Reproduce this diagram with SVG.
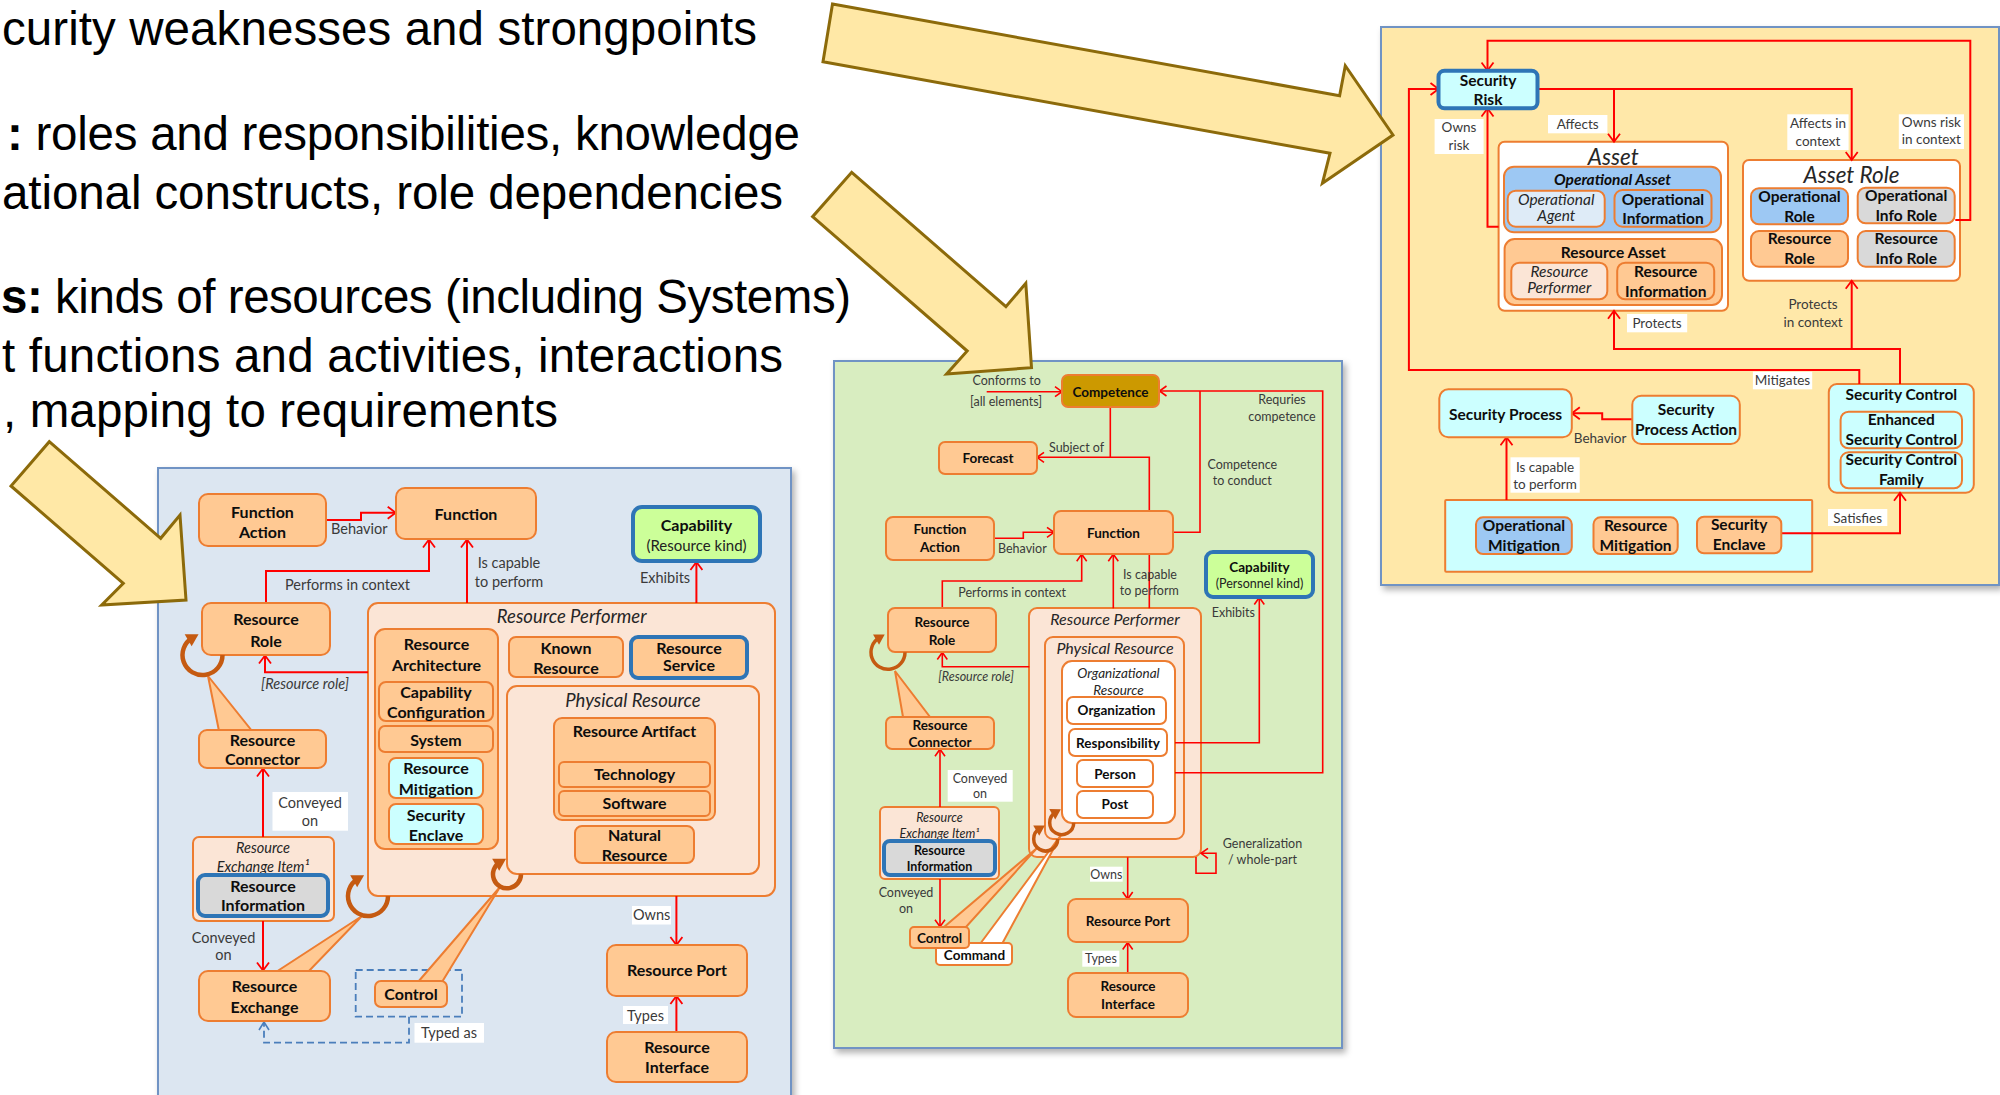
<svg xmlns="http://www.w3.org/2000/svg" width="2000" height="1095" viewBox="0 0 2000 1095">
<defs>
<style>
text{font-family:Lato,"Liberation Sans","DejaVu Sans",sans-serif}
.slide{font-family:"Liberation Sans",Arial,sans-serif;font-size:47.5px;fill:#000}
.n{fill:#FFC993;stroke:#ED7D31;stroke-width:2}
.pc{fill:#FBE5D6;stroke:#ED7D31;stroke-width:2}
.cy{fill:#CCFFFF;stroke:#ED7D31;stroke-width:2}
.lb{fill:#9DC8F3;stroke:#ED7D31;stroke-width:2}
.gr{fill:#D9D9D9;stroke:#ED7D31;stroke-width:2}
.wh{fill:#FFFFFF;stroke:#ED7D31;stroke-width:2}
.ag{fill:#DEEBF7;stroke:#ED7D31;stroke-width:2}
.cap{fill:#CCFF99;stroke:#2E75B6;stroke-width:4}
.bb{stroke:#2E75B6;stroke-width:4}
.b{font-weight:700;text-anchor:middle;fill:#0d0d0d}
.i{font-style:italic;text-anchor:middle;fill:#262626}
.r{text-anchor:middle;fill:#3a3a3a}
.st{text-anchor:start}
.L{font-size:16px}.M{font-size:13.5px}.R{font-size:15.5px}
.lL{font-size:14.5px}.lM{font-size:12.5px}.lR{font-size:13.5px}
.tL{font-size:18.5px}.tM{font-size:16px}.tR{font-size:22.5px}
.c{fill:none;stroke:#FF0000;stroke-width:2;marker-end:url(#ah)}
.cs{fill:none;stroke:#FF0000;stroke-width:1.6;marker-end:url(#ahs)}
.cn{fill:none;stroke:#FF0000;stroke-width:2}
.cns{fill:none;stroke:#FF0000;stroke-width:1.6}
.wb{fill:#FFFFFF}
.loop{fill:none;stroke:#C55A11;stroke-width:4.5;marker-end:url(#bh)}
.loops{fill:none;stroke:#C55A11;stroke-width:3.5;marker-end:url(#bhs)}
.co{fill:#FFC993;stroke:#ED7D31;stroke-width:2}
.cw{fill:#FFFFFF;stroke:#ED7D31;stroke-width:2}
.big{fill:#FFE8A6;stroke:#8C6A0A;stroke-width:3}
.panel{stroke:#6F93C4;stroke-width:2;filter:url(#sh)}
</style>
<filter id="sh" x="-3%" y="-3%" width="108%" height="108%">
<feDropShadow dx="3" dy="4" stdDeviation="3" flood-color="#000" flood-opacity="0.3"/>
</filter>
<marker id="ah" markerUnits="userSpaceOnUse" markerWidth="14" markerHeight="14" viewBox="-10 -7 14 14" refX="0" refY="0" orient="auto">
<path d="M-8,-6 L0,0 L-8,6" fill="none" stroke="#FF0000" stroke-width="1.8"/>
</marker>
<marker id="ahs" markerUnits="userSpaceOnUse" markerWidth="12" markerHeight="12" viewBox="-9 -6 12 12" refX="0" refY="0" orient="auto">
<path d="M-7,-5 L0,0 L-7,5" fill="none" stroke="#FF0000" stroke-width="1.6"/>
</marker>
<marker id="ahb" markerUnits="userSpaceOnUse" markerWidth="14" markerHeight="14" viewBox="-10 -7 14 14" refX="0" refY="0" orient="auto">
<path d="M-8,-5 L0,0 L-8,5" fill="none" stroke="#4A7EBB" stroke-width="1.6"/>
</marker>
<marker id="bh" markerUnits="userSpaceOnUse" markerWidth="16" markerHeight="16" viewBox="-8 -8 16 16" refX="0" refY="0" orient="auto">
<path d="M-5,-7 L7,0 L-5,7 z" fill="#C55A11"/>
</marker>
<marker id="bhs" markerUnits="userSpaceOnUse" markerWidth="14" markerHeight="14" viewBox="-7 -7 14 14" refX="0" refY="0" orient="auto">
<path d="M-4,-6 L6,0 L-4,6 z" fill="#C55A11"/>
</marker>
</defs>

<rect x="0" y="0" width="2000" height="1095" fill="#FFFFFF"/>

<g id="panels">
<rect class="panel" x="158" y="468" width="633" height="640" fill="#DCE6F1"/>
<rect class="panel" x="834" y="361" width="508" height="687" fill="#D8EDC0"/>
<rect class="panel" x="1381" y="27" width="618" height="558" fill="#FFE8A9"/>
</g>

<g id="containers">
<g id="L-resource-performer"><rect class="pc" x="368" y="603" width="407" height="293" rx="10"/><text class="i tL" x="571.7" y="623.3">Resource Performer</text></g>
<g id="L-resource-architecture"><rect class="n" x="375" y="629" width="123" height="220" rx="10"/><text class="b L" x="436.5" y="650">Resource</text><text class="b L" x="436.5" y="671">Architecture</text></g>
<g id="L-physical-resource"><rect class="pc" x="507" y="686" width="252" height="188" rx="10"/><text class="i tL" x="633" y="706.7">Physical Resource</text></g>
<g id="L-resource-artifact"><rect class="n" x="554" y="718" width="161" height="102" rx="8"/><text class="b L" x="634.5" y="736.7">Resource Artifact</text></g>
<g id="L-resource-exchange-item"><rect class="pc" x="193" y="837" width="141" height="84" rx="6"/><text class="i lL" x="263" y="853.3">Resource</text><text class="i lL" x="263" y="871.7">Exchange Item¹</text></g>

<g id="M-resource-performer"><rect class="pc" x="1029" y="608" width="172" height="249" rx="8"/><text class="i tM" x="1115" y="625">Resource Performer</text></g>
<g id="M-physical-resource"><rect class="pc" x="1045" y="637" width="139" height="202" rx="8"/><text class="i tM" x="1115" y="653.5">Physical Resource</text></g>
<g id="M-organizational-resource"><rect class="wh" x="1062" y="661" width="113" height="162" rx="10"/><text class="i" x="1118.5" y="677.5" style="font-size:13.5px">Organizational</text><text class="i" x="1118.5" y="695" style="font-size:13.5px">Resource</text></g>
<g id="M-resource-exchange-item"><rect class="pc" x="880" y="807" width="119" height="72" rx="5"/><text class="i lM" x="939.5" y="821.5">Resource</text><text class="i lM" x="939.5" y="837.5">Exchange Item¹</text></g>

<g id="R-asset"><rect class="wh" x="1498.6" y="141.7" width="229.4" height="169" rx="6"/><text class="i tR" x="1613.3" y="164.5">Asset</text></g>
<g id="R-operational-asset"><rect class="lb" x="1504" y="166.7" width="217" height="65.6" rx="10"/><text class="b R" x="1612.5" y="185" font-style="italic">Operational Asset</text></g>
<g id="R-resource-asset"><rect class="n" x="1504.6" y="239" width="217.4" height="66" rx="10"/><text class="b R" x="1613.3" y="258.3">Resource Asset</text></g>
<g id="R-asset-role"><rect class="wh" x="1743" y="160" width="217" height="120.7" rx="6"/><text class="i tR" x="1851.5" y="183">Asset Role</text></g>
<g id="R-security-control"><rect class="cy" x="1828.8" y="384" width="145" height="108.7" rx="8"/><text class="b R" x="1901.3" y="400">Security Control</text></g>
<g id="R-mitigation-set"><rect class="cy" x="1445.2" y="500" width="367" height="71.7" rx="1"/></g>
</g>

<g id="connectors">
<path class="c" d="M326,520 H361 V512.7 H395.7"/>
<path class="c" d="M266,603 V571 H429 V539.5"/>
<path class="c" d="M467,603 V539.5"/>
<path class="c" d="M696.4,603 V562"/>
<path class="c" d="M368,672.3 H265 V655.5"/>
<path class="c" d="M263,837 V768.5"/>
<path class="c" d="M263,921 V970.5"/>
<path class="c" d="M676.4,896 V945"/>
<path class="c" d="M676.4,1032 V996"/>
<rect x="355.7" y="970" width="106.3" height="46.7" fill="none" stroke="#4A7EBB" stroke-width="1.8" stroke-dasharray="7,4"/>
<path d="M409,1016.7 V1042.7 H264 V1022" fill="none" stroke="#4A7EBB" stroke-width="1.8" stroke-dasharray="7,4" marker-end="url(#ahb)"/>

<path class="cs" d="M986.7,391.7 H1062"/>
<path class="cns" d="M1110.3,407.3 V457.3"/>
<path class="cs" d="M1149.3,608.3 V457.3 H1037"/>
<path class="cs" d="M994,538.3 H1023.3 V532.3 H1054"/>
<path class="cns" d="M1173.3,532.3 H1200 V391"/>
<path class="cs" d="M1175,772.7 H1322.7 V391 H1159.5"/>
<path class="cs" d="M1175,742.7 H1259.3 V597.5"/>
<path class="cs" d="M942.3,608.3 V581 H1081.7 V554.2"/>
<path class="cs" d="M1113.3,608.3 V554.2"/>
<path class="cs" d="M1029.3,666.7 H942.3 V652.5"/>
<path class="cs" d="M940,807 V749.2"/>
<path class="cs" d="M940,879 V926.7"/>
<path class="cs" d="M1127.7,857.3 V899"/>
<path class="cs" d="M1127.7,973.3 V942.5"/>
<path class="cs" d="M1196,857 V873.3 H1216 V853.3 H1201"/>

<path class="c" d="M1955.3,220 H1970.3 V40.7 H1487.5 V70.5"/>
<path class="c" d="M1859.3,384 V370 H1408.9 V89 H1438.5"/>
<path class="c" d="M1498.6,226.7 H1487.5 V108.5"/>
<path class="c" d="M1537.4,89 H1851.7 V160"/>
<path class="c" d="M1614,89 V141.7"/>
<path class="c" d="M1900,384 V349 H1614 V310.7"/>
<path class="c" d="M1851.7,349 V280.7"/>
<path class="c" d="M1632.3,419.3 H1602.2 V413.3 H1571.8"/>
<path class="c" d="M1506.5,500 V437.3"/>
<path class="c" d="M1781.3,533.3 H1900 V492.7"/>
</g>

<g id="callouts">
<polygon class="co" points="219,731 208,676 252,731"/>
<polygon class="co" points="276,972 362,916 308,972"/>
<polygon class="co" points="418,982 500,887 442,982"/>
<polygon class="co" points="903,717 895,671 930,717"/>
<polygon class="cw" points="980,944 1061,835 1002,944"/>
<polygon class="co" points="944,927 1037,848 966,927"/>
</g>

<g id="nodes">
<g id="L-function-action"><rect class="n" x="199" y="494" width="127" height="52" rx="9"/><text class="b L" x="262.5" y="517.7">Function</text><text class="b L" x="262.5" y="538.3">Action</text></g>
<g id="L-function"><rect class="n" x="396" y="488" width="140" height="51" rx="9"/><text class="b L" x="466" y="520">Function</text></g>
<g id="L-capability"><rect class="cap" x="633" y="507" width="127" height="54" rx="9"/><text class="b L" x="696.5" y="531">Capability</text><text class="r" x="696.5" y="550.5" style="font-size:15px;fill:#222">(Resource kind)</text></g>
<g id="L-resource-role"><rect class="n" x="202" y="603" width="128" height="52" rx="9"/><text class="b L" x="266" y="625">Resource</text><text class="b L" x="266" y="646.7">Role</text></g>
<g id="L-resource-connector"><rect class="n" x="199" y="730" width="127" height="38" rx="8"/><text class="b L" x="262.5" y="745.5">Resource</text><text class="b L" x="262.5" y="765">Connector</text></g>
<g id="L-resource-information"><rect class="gr bb" x="198" y="875" width="130" height="41" rx="7"/><text class="b L" x="263" y="891.5">Resource</text><text class="b L" x="263" y="910.5">Information</text></g>
<g id="L-resource-exchange"><rect class="n" x="199" y="971" width="131" height="50" rx="9"/><text class="b L" x="264.5" y="991.5">Resource</text><text class="b L" x="264.5" y="1012.5">Exchange</text></g>
<g id="L-control"><rect class="n" x="375" y="981" width="72" height="26" rx="6"/><text class="b L" x="411" y="999.5">Control</text></g>
<g id="L-capability-configuration"><rect class="n" x="379" y="682" width="114" height="39" rx="7"/><text class="b L" x="436" y="697.5">Capability</text><text class="b L" x="436" y="718">Configuration</text></g>
<g id="L-system"><rect class="n" x="379" y="726" width="114" height="26" rx="6"/><text class="b L" x="436" y="745.5">System</text></g>
<g id="L-resource-mitigation"><rect class="cy" x="389" y="758" width="94" height="40" rx="7"/><text class="b L" x="436" y="774">Resource</text><text class="b L" x="436" y="794.5">Mitigation</text></g>
<g id="L-security-enclave"><rect class="cy" x="389" y="804" width="94" height="40" rx="7"/><text class="b L" x="436" y="820.5">Security</text><text class="b L" x="436" y="841">Enclave</text></g>
<g id="L-known-resource"><rect class="n" x="509" y="637" width="114" height="40" rx="7"/><text class="b L" x="566" y="653.5">Known</text><text class="b L" x="566" y="674">Resource</text></g>
<g id="L-resource-service"><rect class="n bb" x="631" y="637" width="116" height="41" rx="7"/><text class="b L" x="689" y="653.5">Resource</text><text class="b L" x="689" y="670.5">Service</text></g>
<g id="L-technology"><rect class="n" x="559" y="762" width="151" height="25" rx="5"/><text class="b L" x="634.5" y="780">Technology</text></g>
<g id="L-software"><rect class="n" x="559" y="791" width="151" height="25" rx="5"/><text class="b L" x="634.5" y="809">Software</text></g>
<g id="L-natural-resource"><rect class="n" x="575" y="826" width="119" height="37" rx="7"/><text class="b L" x="634.5" y="840.5">Natural</text><text class="b L" x="634.5" y="861">Resource</text></g>
<g id="L-resource-port"><rect class="n" x="607" y="945" width="140" height="51" rx="9"/><text class="b L" x="677" y="976">Resource Port</text></g>
<g id="L-resource-interface"><rect class="n" x="607" y="1032" width="140" height="50" rx="9"/><text class="b L" x="677" y="1052.5">Resource</text><text class="b L" x="677" y="1073">Interface</text></g>

<g id="M-competence"><rect x="1062" y="375" width="97" height="32" rx="6" fill="#CC9900" stroke="#ED7D31" stroke-width="2"/><text class="b M" x="1110.5" y="396.5">Competence</text></g>
<g id="M-forecast"><rect class="n" x="939" y="442" width="98" height="32" rx="6"/><text class="b M" x="988" y="463">Forecast</text></g>
<g id="M-function-action"><rect class="n" x="886" y="517" width="108" height="43" rx="7"/><text class="b M" x="940" y="534">Function</text><text class="b M" x="940" y="552">Action</text></g>
<g id="M-function"><rect class="n" x="1054" y="511" width="119" height="43" rx="7"/><text class="b M" x="1113.5" y="537.5">Function</text></g>
<g id="M-capability"><rect class="cap" x="1206" y="552" width="107" height="45" rx="7"/><text class="b M" x="1259.5" y="571.5">Capability</text><text class="r" x="1259.5" y="587.5" style="font-size:12.5px;fill:#222">(Personnel kind)</text></g>
<g id="M-resource-role"><rect class="n" x="888" y="608" width="108" height="44" rx="7"/><text class="b M" x="942" y="626.5">Resource</text><text class="b M" x="942" y="644.5">Role</text></g>
<g id="M-organization"><rect class="wh" x="1067" y="697" width="99" height="27" rx="6"/><text class="b M" x="1116.5" y="715">Organization</text></g>
<g id="M-responsibility"><rect class="wh" x="1069" y="729" width="98" height="27" rx="6"/><text class="b M" x="1118" y="747.5">Responsibility</text></g>
<g id="M-person"><rect class="wh" x="1077" y="760" width="76" height="27" rx="6"/><text class="b M" x="1115" y="778.5">Person</text></g>
<g id="M-post"><rect class="wh" x="1077" y="791" width="76" height="27" rx="6"/><text class="b M" x="1115" y="808.5">Post</text></g>
<g id="M-resource-connector"><rect class="n" x="886" y="717" width="108" height="32" rx="6"/><text class="b M" x="940" y="730">Resource</text><text class="b M" x="940" y="746.5">Connector</text></g>
<g id="M-resource-information"><rect class="gr bb" x="884" y="841" width="111" height="34" rx="6"/><text class="b" x="939.5" y="854.5" style="font-size:12.5px">Resource</text><text class="b" x="939.5" y="870.5" style="font-size:12.5px">Information</text></g>
<g id="M-command"><rect class="wh" x="936" y="943" width="76" height="22" rx="4"/><text class="b M" x="974.5" y="960">Command</text></g>
<g id="M-control"><rect class="n" x="910" y="927" width="59" height="21" rx="4"/><text class="b M" x="939.5" y="943">Control</text></g>
<g id="M-resource-port"><rect class="n" x="1068" y="899" width="120" height="43" rx="8"/><text class="b M" x="1128" y="926">Resource Port</text></g>
<g id="M-resource-interface"><rect class="n" x="1068" y="973" width="120" height="44" rx="8"/><text class="b M" x="1128" y="990.5">Resource</text><text class="b M" x="1128" y="1009">Interface</text></g>

<g id="R-security-risk"><rect class="cy bb" x="1438.5" y="70.7" width="99" height="37.6" rx="6"/><text class="b R" x="1488" y="85.5">Security</text><text class="b R" x="1488" y="105">Risk</text></g>
<g id="R-operational-agent"><rect class="ag" x="1507.7" y="190.7" width="97" height="36" rx="8"/><text class="i R" x="1556.2" y="205">Operational</text><text class="i R" x="1556.2" y="221">Agent</text></g>
<g id="R-operational-information"><rect class="lb" x="1614.5" y="190" width="97" height="36.7" rx="8"/><text class="b R" x="1663" y="205">Operational</text><text class="b R" x="1663" y="224">Information</text></g>
<g id="R-resource-performer"><rect class="pc" x="1511.3" y="262.7" width="96" height="36.6" rx="8"/><text class="i R" x="1559.3" y="276.7">Resource</text><text class="i R" x="1559.3" y="292.7">Performer</text></g>
<g id="R-resource-information"><rect class="n" x="1617.2" y="262.7" width="97" height="36.6" rx="8"/><text class="b R" x="1665.7" y="276.7">Resource</text><text class="b R" x="1665.7" y="296.5">Information</text></g>
<g id="R-operational-role"><rect class="lb" x="1751" y="188.3" width="97" height="36" rx="8"/><text class="b R" x="1799.5" y="201.7">Operational</text><text class="b R" x="1799.5" y="221.7">Role</text></g>
<g id="R-operational-info-role"><rect class="gr" x="1857.7" y="187.7" width="97" height="35.6" rx="8"/><text class="b R" x="1906.2" y="201">Operational</text><text class="b R" x="1906.2" y="221">Info Role</text></g>
<g id="R-resource-role"><rect class="n" x="1751" y="231" width="97" height="35.7" rx="8"/><text class="b R" x="1799.5" y="244.3">Resource</text><text class="b R" x="1799.5" y="264.3">Role</text></g>
<g id="R-resource-info-role"><rect class="gr" x="1857.7" y="231" width="97" height="35.7" rx="8"/><text class="b R" x="1906.2" y="244.3">Resource</text><text class="b R" x="1906.2" y="264.3">Info Role</text></g>
<g id="R-security-process"><rect class="cy" x="1439.3" y="389.3" width="132.5" height="48" rx="9"/><text class="b R" x="1505.5" y="420">Security Process</text></g>
<g id="R-security-process-action"><rect class="cy" x="1632.3" y="395.7" width="107.5" height="48.3" rx="9"/><text class="b R" x="1686" y="415">Security</text><text class="b R" x="1686" y="435">Process Action</text></g>
<g id="R-enhanced-security-control"><rect class="cy" x="1840.6" y="411.7" width="121.4" height="36.6" rx="8"/><text class="b R" x="1901.3" y="425">Enhanced</text><text class="b R" x="1901.3" y="445">Security Control</text></g>
<g id="R-security-control-family"><rect class="cy" x="1840.6" y="452.3" width="121.4" height="36" rx="8"/><text class="b R" x="1901.3" y="465">Security Control</text><text class="b R" x="1901.3" y="485">Family</text></g>
<g id="R-operational-mitigation"><rect class="lb" x="1476" y="517.3" width="95.8" height="36.7" rx="7"/><text class="b R" x="1524" y="530.7">Operational</text><text class="b R" x="1524" y="550.7">Mitigation</text></g>
<g id="R-resource-mitigation"><rect class="n" x="1593.5" y="517.3" width="84.2" height="36.7" rx="7"/><text class="b R" x="1635.6" y="530.7">Resource</text><text class="b R" x="1635.6" y="550.7">Mitigation</text></g>
<g id="R-security-enclave"><rect class="n" x="1697" y="516.7" width="84.3" height="36.6" rx="7"/><text class="b R" x="1739.2" y="530">Security</text><text class="b R" x="1739.2" y="550">Enclave</text></g>
</g>

<g id="self-loops">
<path class="loop" d="M222.5,655 A20,20 0 1 1 192.5,637.7"/>
<path class="loop" d="M388,896 A20,20 0 1 1 358,878.7"/>
<path class="loop" d="M521,874.3 A14,14 0 1 1 500,862.2"/>
<path class="loops" d="M905,652.3 A17,17 0 1 1 879.5,637.6"/>
<path class="loops" d="M1057.7,839 A12,12 0 1 1 1039.7,828.6"/>
<path class="loops" d="M1073.7,822.7 A12,12 0 1 1 1055.7,812.3"/>
</g>

<g id="labels">
<text class="r lL st" x="331" y="534">Behavior</text>
<text class="r lL st" x="285" y="590">Performs in context</text>
<text class="r lL" x="509" y="568.3">Is capable</text>
<text class="r lL" x="509" y="586.7">to perform</text>
<text class="r lL" x="665" y="583.3">Exhibits</text>
<text class="r lL" x="305" y="689.3" font-style="italic">[Resource role]</text>
<rect class="wb" x="272.5" y="792" width="75.5" height="38.7"/>
<text class="r lL" x="310" y="807.7">Conveyed</text>
<text class="r lL" x="310" y="825.7">on</text>
<text class="r lL" x="223.5" y="942.7">Conveyed</text>
<text class="r lL" x="223.5" y="960">on</text>
<rect class="wb" x="632" y="906" width="39" height="18.5"/>
<text class="r lL" x="651.7" y="920">Owns</text>
<rect class="wb" x="623" y="1006" width="45" height="18"/>
<text class="r lL" x="645.5" y="1021">Types</text>
<rect class="wb" x="414.5" y="1023" width="69.5" height="19.7"/>
<text class="r lL" x="449" y="1037.7">Typed as</text>

<text class="r lM" x="1006.7" y="385">Conforms to</text>
<text class="r lM" x="1006" y="406">[all elements]</text>
<text class="r lM st" x="1049" y="451.7">Subject of</text>
<text class="r lM" x="1282" y="404.3">Requries</text>
<text class="r lM" x="1282" y="420.7">competence</text>
<text class="r lM" x="1242.3" y="469.3">Competence</text>
<text class="r lM" x="1242.3" y="485">to conduct</text>
<text class="r lM st" x="998" y="553.3">Behavior</text>
<text class="r lM st" x="958.3" y="597.3">Performs in context</text>
<text class="r lM" x="1150" y="579">Is capable</text>
<text class="r lM" x="1149.3" y="595">to perform</text>
<text class="r lM st" x="1211.7" y="617.3">Exhibits</text>
<text class="r lM" x="976" y="681" font-style="italic">[Resource role]</text>
<rect class="wb" x="947.7" y="770" width="65" height="31.7"/>
<text class="r lM" x="980" y="782.7">Conveyed</text>
<text class="r lM" x="980" y="798.3">on</text>
<text class="r lM" x="906" y="897.3">Conveyed</text>
<text class="r lM" x="906" y="913.3">on</text>
<rect class="wb" x="1090" y="866.7" width="32.7" height="15"/>
<text class="r lM" x="1106.3" y="879">Owns</text>
<rect class="wb" x="1082.3" y="950.7" width="37" height="16"/>
<text class="r lM" x="1101" y="963.3">Types</text>
<text class="r lM" x="1262.5" y="848.3">Generalization</text>
<text class="r lM" x="1262.5" y="864.3">/ whole-part</text>

<rect class="wb" x="1434.6" y="119" width="49" height="35"/>
<text class="r lR" x="1459" y="132.3">Owns</text>
<text class="r lR" x="1459" y="150">risk</text>
<rect class="wb" x="1548" y="115" width="59.4" height="18.3"/>
<text class="r lR" x="1577.7" y="129">Affects</text>
<rect class="wb" x="1787.3" y="114.3" width="61.3" height="35.7"/>
<text class="r lR" x="1818" y="128.3">Affects in</text>
<text class="r lR" x="1818" y="145.7">context</text>
<rect class="wb" x="1898.8" y="114.3" width="65.2" height="34.7"/>
<text class="r lR" x="1931.4" y="126.7">Owns risk</text>
<text class="r lR" x="1931.4" y="144.3">in context</text>
<rect class="wb" x="1627" y="314" width="60.2" height="18.3"/>
<text class="r lR" x="1657" y="328.3">Protects</text>
<text class="r lR" x="1813" y="309">Protects</text>
<text class="r lR" x="1813" y="326.7">in context</text>
<rect class="wb" x="1752.9" y="371.7" width="59.3" height="17.6"/>
<text class="r lR" x="1782.5" y="385">Mitigates</text>
<text class="r lR st" x="1573.8" y="443.3">Behavior</text>
<rect class="wb" x="1510.5" y="457.3" width="69.2" height="35.4"/>
<text class="r lR" x="1545" y="471.7">Is capable</text>
<text class="r lR" x="1545" y="489.3">to perform</text>
<rect class="wb" x="1828" y="509" width="59.3" height="17"/>
<text class="r lR" x="1857.7" y="522.7">Satisfies</text>
</g>

<g id="slide-text">
<text class="slide" x="2" y="45" textLength="755" lengthAdjust="spacing">curity weaknesses and strongpoints</text>
<text class="slide" x="7" y="149.5" textLength="793" lengthAdjust="spacing"><tspan font-weight="bold">:</tspan> roles and responsibilities, knowledge</text>
<text class="slide" x="2" y="209" textLength="781" lengthAdjust="spacing">ational constructs, role dependencies</text>
<text class="slide" x="1" y="313" textLength="850" lengthAdjust="spacing"><tspan font-weight="bold">s:</tspan> kinds of resources (including Systems)</text>
<text class="slide" x="2" y="372" textLength="781" lengthAdjust="spacing">t functions and activities, interactions</text>
<text class="slide" x="3" y="427" textLength="555" lengthAdjust="spacing">, mapping to requirements</text>
</g>

<g id="big-arrows">
<polygon class="big" points="832.5,4 1339.6,95.7 1345.3,65.7 1393,135 1322.4,183.3 1330,153.3 823,61.7"/>
<polygon class="big" points="851.7,172.3 1005.9,306.7 1025.8,283.3 1031.5,367.7 946.6,374 967.2,351 812.6,216.7"/>
<polygon class="big" points="49.3,441.7 160.7,538.3 180,515 186,600 101.7,605 123.3,583.3 11,486"/>
</g>
</svg>
